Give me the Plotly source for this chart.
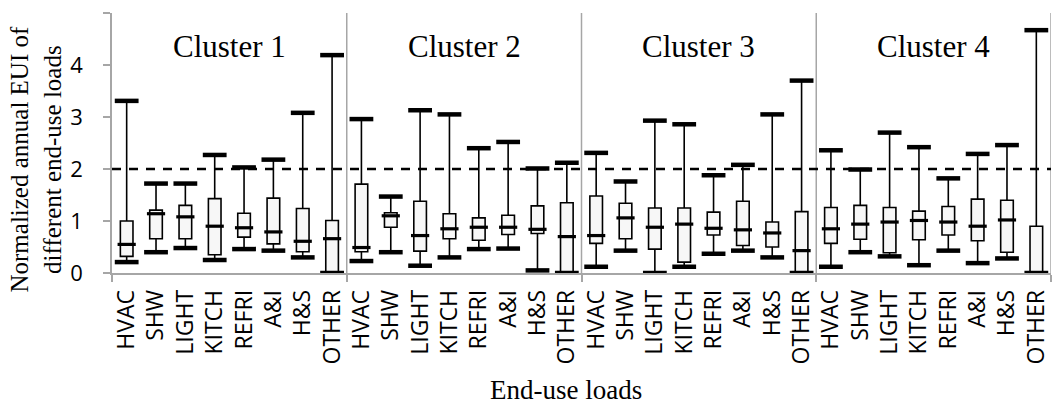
import plotly.graph_objects as go

# End-use load categories repeated for each cluster
loads = ["HVAC", "SHW", "LIGHT", "KITCH", "REFRI", "A&I", "H&S", "OTHER"]
clusters = ["Cluster 1", "Cluster 2", "Cluster 3", "Cluster 4"]

# Box statistics, one row of 8 loads per cluster
q_min = [0.21, 0.40, 0.48, 0.25, 0.46, 0.43, 0.30, 0.00,
         0.23, 0.40, 0.14, 0.30, 0.46, 0.47, 0.05, 0.00,
         0.12, 0.43, 0.00, 0.12, 0.37, 0.43, 0.30, 0.00,
         0.12, 0.40, 0.32, 0.15, 0.43, 0.19, 0.28, 0.00]
q1 = [0.32, 0.66, 0.66, 0.35, 0.69, 0.56, 0.41, 0.00,
      0.41, 0.88, 0.42, 0.66, 0.63, 0.74, 0.76, 0.00,
      0.57, 0.66, 0.46, 0.21, 0.73, 0.53, 0.50, 0.00,
      0.57, 0.65, 0.39, 0.64, 0.73, 0.62, 0.40, 0.00]
med = [0.55, 1.14, 1.08, 0.90, 0.87, 0.79, 0.61, 0.66,
       0.49, 1.10, 0.72, 0.85, 0.88, 0.88, 0.84, 0.70,
       0.72, 1.06, 0.88, 0.94, 0.86, 0.83, 0.77, 0.43,
       0.85, 0.94, 0.98, 1.01, 0.98, 0.90, 1.02, 0.00]
q3 = [1.00, 1.21, 1.30, 1.43, 1.15, 1.44, 1.24, 1.01,
      1.71, 1.16, 1.38, 1.14, 1.06, 1.11, 1.29, 1.35,
      1.48, 1.34, 1.25, 1.25, 1.17, 1.38, 0.98, 1.18,
      1.26, 1.30, 1.26, 1.19, 1.28, 1.42, 1.40, 0.90]
q_max = [3.31, 1.72, 1.72, 2.27, 2.03, 2.18, 3.08, 4.19,
         2.96, 1.47, 3.13, 3.05, 2.40, 2.52, 2.01, 2.12,
         2.31, 1.76, 2.93, 2.86, 1.88, 2.08, 3.05, 3.70,
         2.36, 1.99, 2.70, 2.42, 1.82, 2.29, 2.46, 4.67]

reference_level = 2

n = len(loads)
positions = list(range(n * len(clusters)))
tick_text = loads * len(clusters)
boundaries = [k * n - 0.5 for k in range(len(clusters) + 1)]

serif = "Liberation Serif"
sans = "Open Sans"
grey = "#a6a6a6"

fig = go.Figure()

fig.add_trace(go.Box(
    x=positions, q1=q1, median=med, q3=q3,
    lowerfence=q_min, upperfence=q_max,
    width=0.43, whiskerwidth=0, boxpoints=False,
    fillcolor="#f7f7f7", line=dict(color="black", width=1.6),
    showlegend=False, hoverinfo="skip",
))

# thick whisker caps
fig.add_trace(go.Scatter(
    x=positions + positions, y=q_min + q_max, mode="markers",
    marker=dict(symbol="line-ew", size=17, line=dict(color="black", width=4.5)),
    showlegend=False, hoverinfo="skip",
))

# bold median bars
fig.add_trace(go.Scatter(
    x=positions, y=med, mode="markers",
    marker=dict(symbol="line-ew", size=13, line=dict(color="black", width=3.2)),
    showlegend=False, hoverinfo="skip",
))

shapes = [dict(type="line", xref="x", yref="y", x0=b, x1=b, y0=0, y1=5,
               line=dict(color=grey, width=1.5), layer="below")
          for b in boundaries[1:]]
shapes.append(dict(type="line", xref="x", yref="y",
                   x0=boundaries[0], x1=boundaries[-1],
                   y0=reference_level, y1=reference_level,
                   line=dict(color="black", width=2.5, dash="9px,8px")))

annotations = [dict(text=c, x=k * n + (n - 1) / 2, y=4.35, xref="x", yref="y",
                    showarrow=False, font=dict(family=serif, size=31, color="black"))
               for k, c in enumerate(clusters)]
annotations.append(dict(text="Normalized annual EUI of<br>different end-use loads",
                        xref="paper", yref="paper", x=-0.081, y=0.44,
                        xanchor="center", yanchor="middle",
                        textangle=-90, showarrow=False,
                        font=dict(family=serif, size=25, color="black")))
annotations.append(dict(text="End-use loads", xref="paper", yref="paper",
                        x=0.4835, y=-0.45, xanchor="center", yanchor="middle",
                        showarrow=False,
                        font=dict(family=serif, size=27, color="black")))

fig.update_layout(
    width=1056, height=405,
    margin=dict(l=112, r=5, t=13, b=132, pad=0),
    plot_bgcolor="white", paper_bgcolor="white",
    font=dict(family=sans, size=23, color="black"),
    shapes=shapes, annotations=annotations,
    xaxis=dict(
        range=[boundaries[0], boundaries[-1]],
        tickmode="array", tickvals=positions, ticktext=tick_text,
        tickangle=-90, ticks="", showgrid=False, zeroline=False,
        showline=True, linecolor=grey, linewidth=1.5,
        tickfont=dict(family=sans, size=23, color="black"),
        ticklabelstandoff=6,
        minor=dict(tickmode="array", tickvals=boundaries, ticks="outside",
                   ticklen=7, tickwidth=1.5, tickcolor=grey, showgrid=False),
    ),
    yaxis=dict(
        range=[0, 5], dtick=1, ticks="outside", ticklen=7, tickwidth=1.5,
        tickcolor=grey, showline=True, linecolor=grey, linewidth=1.5,
        showgrid=False, zeroline=False,
        tickfont=dict(family=sans, size=22, color="black"),
        ticklabelstandoff=16,
    ),
)

fig.write_html("out.html")
